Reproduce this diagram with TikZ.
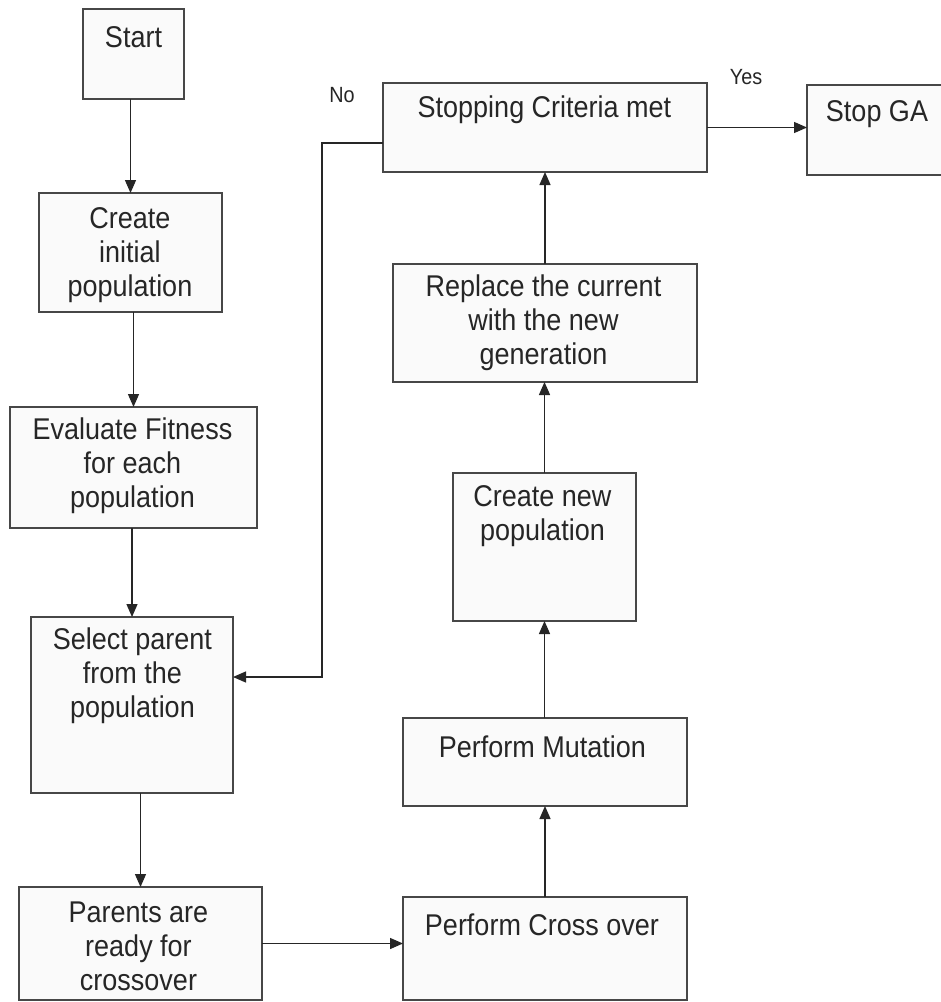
\documentclass[tikz,border=0pt]{standalone}
\usepackage{fontspec}
\setmainfont{Liberation Sans}[FakeStretch=0.9]
\usetikzlibrary{arrows.meta,calc}
\tikzset{
  box/.style={draw=black!72, line width=1.2pt, fill=black!2, rectangle, inner sep=0pt, outer sep=0pt},
  txt/.style={inner sep=0pt, align=center, text=black!85, font=\fontsize{30}{34}\selectfont},
  lbl/.style={inner sep=0pt, text=black!85, font=\fontsize{22}{26}\selectfont},
  arr/.style={draw=black!85, line width=1.3pt, -{Triangle[length=13pt,width=11pt]}}
}
\begin{document}
\begin{tikzpicture}[x=1pt,y=-1pt]
\clip (0,0) rectangle (941,1002);
\fill[white] (0,0) rectangle (941,1002);
% boxes
\node[box, minimum width=101pt, minimum height=90pt] (start) at (133.5,54) {};
\node[box, minimum width=183pt, minimum height=119pt] (create) at (130.5,252.5) {};
\node[box, minimum width=247pt, minimum height=121pt] (eval) at (133.5,467.5) {};
\node[box, minimum width=202pt, minimum height=176pt] (select) at (132,705) {};
\node[box, minimum width=243pt, minimum height=113pt] (parents) at (140.5,943.5) {};
\node[box, minimum width=284pt, minimum height=103pt] (cross) at (545,948.5) {};
\node[box, minimum width=284pt, minimum height=88pt] (mut) at (545,762) {};
\node[box, minimum width=183pt, minimum height=148pt] (newpop) at (544.5,547) {};
\node[box, minimum width=304pt, minimum height=118pt] (replace) at (545,323) {};
\node[box, minimum width=324pt, minimum height=89pt] (stopc) at (545,127.5) {};
\node[box, minimum width=150pt, minimum height=90pt] (stopga) at (882,130) {};
% texts
\node[txt] (tstart) at (133.5,37) {Start};
\node[txt] (tcreate) at (130,255) {Create\\initial\\population};
\node[txt] (teval) at (132.5,466) {Evaluate Fitness\\for each\\population};
\node[txt] (tselect) at (132.5,676) {Select parent\\from the\\population};
\node[txt] (tparents) at (138.5,946) {Parents are\\ready for\\crossover};
\node[txt] (tcross) at (542,925) {Perform Cross over};
\node[txt] (tmut) at (542.5,747) {Perform Mutation};
\node[txt] (tnewpop) at (542.5,516) {Create new\\population};
\node[txt] (treplace) at (543.5,323) {Replace the current\\with the new\\generation};
\node[txt] (tstopc) at (544.5,110) {Stopping Criteria met};
\node[txt] (tstopga) at (877,114) {Stop GA};
\node[lbl] (no) at (342,95) {No};
\node[lbl] (yes) at (746,77) {Yes};
% connectors
\draw[arr] (create.north |- start.south) -- (create.north);
\draw[arr] (eval.north |- create.south) -- (eval.north);
\draw[arr] (select.north |- eval.south) -- (select.north);
\draw[arr] (parents.north |- select.south) -- (parents.north);
\draw[arr] (parents.east) -- (parents.east -| cross.west);
\draw[arr] (cross.north) -- (mut.south);
\draw[arr] (newpop.south |- mut.north) -- (newpop.south);
\draw[arr] (newpop.north) -- (newpop.north |- replace.south);
\draw[arr] (replace.north) -- (stopc.south);
\draw[arr] (stopc.east) -- (stopc.east -| stopga.west);
\coordinate (bend) at (322,677);
\draw[arr] ($(stopc.west)+(0,15.5)$) -| (bend) -- (bend -| select.east);
\end{tikzpicture}
\end{document}
